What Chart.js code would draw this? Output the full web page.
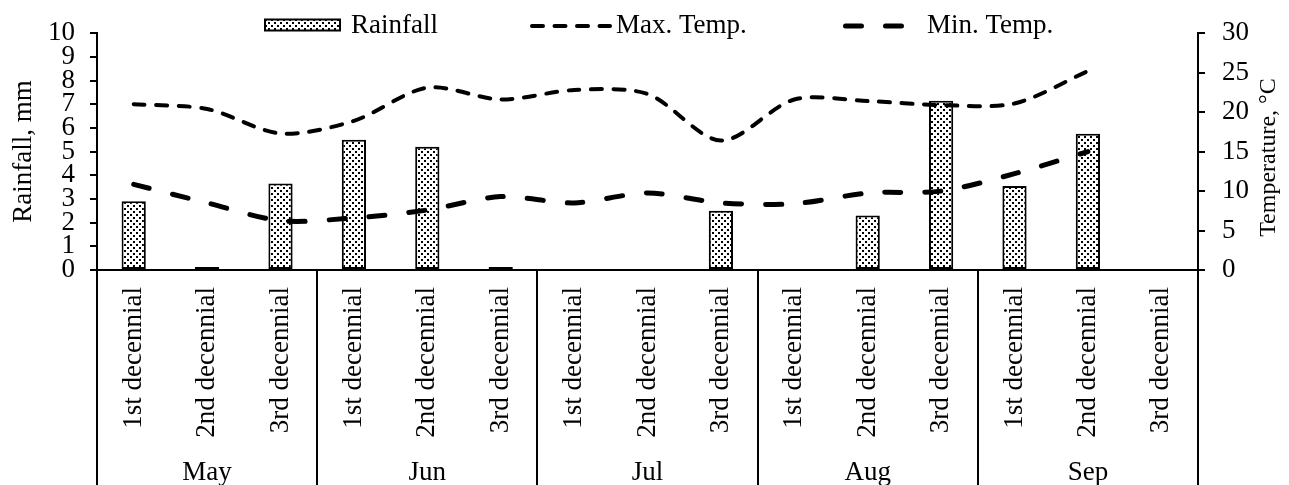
<!DOCTYPE html>
<html>
<head>
<meta charset="utf-8">
<title>Rainfall and temperature by decennial</title>
<script src="https://cdn.jsdelivr.net/npm/chart.js@4/dist/chart.umd.min.js"></script>
<style>
  html, body { margin: 0; padding: 0; background: #fff; }
  #wrap { width: 1289px; height: 485px; position: relative; }
</style>
</head>
<body>
<div id="wrap"><canvas id="chart"></canvas></div>
<script>
// ---- data ----
const months = ['May', 'Jun', 'Jul', 'Aug', 'Sep'];
const decennials = ['1st decennial', '2nd decennial', '3rd decennial'];
// rainfall per decennial, mm (null = no bar)
const rainfall = [2.9, 0, 3.65, 5.5, 5.2, 0, null, null, 2.5, null, 2.3, 7.15, 3.55, 5.75, null];
// temperatures per decennial, °C
const maxTemp = [21.0, 20.4, 17.3, 18.9, 23.1, 21.6, 22.8, 22.3, 16.4, 21.6, 21.4, 20.9, 21.1, 25.2, null];
const minTemp = [10.85, 8.5, 6.25, 6.6, 7.6, 9.3, 8.5, 9.75, 8.5, 8.4, 9.75, 10.0, 12.2, 15.0, null];
const rainTicks = { min: 0, max: 10, step: 1 };
const tempTicks = { min: 0, max: 30, step: 5 };

const categories = months.flatMap(() => decennials);
const perMonth = decennials.length;

// ---- styles ----
const FONT = "'Liberation Serif', 'Times New Roman', serif";
const FONT_SIZE = 27;
const RIGHT_TITLE_SIZE = 24;
const INK = '#000';

// dotted fill for the rainfall bars
function dotPattern() {
  const c = document.createElement('canvas');
  c.width = 6; c.height = 6;
  const g = c.getContext('2d');
  g.fillStyle = '#fff';
  g.fillRect(0, 0, 6, 6);
  g.fillStyle = '#000';
  g.fillRect(1, 1, 2, 2);
  g.fillRect(4, 4, 2, 2);
  return g.createPattern(c, 'repeat');
}
const dots = dotPattern();

// legend entries drawn across the top of the plot
const legendSlots = [
  { iconX: 265, iconW: 75, textX: 351 },
  { iconX: 530, iconW: 82, textX: 616 },
  { iconX: 843, iconW: 62, textX: 927 }
];
const legendY = 26;

const topLegend = {
  id: 'topLegend',
  afterDraw(chart) {
    const ctx = chart.ctx;
    ctx.save();
    chart.data.datasets.forEach((ds, i) => {
      const slot = legendSlots[i];
      if (!slot) return;
      if ((ds.type || chart.config.type) === 'bar') {
        const h = 11;
        ctx.fillStyle = ds.backgroundColor;
        ctx.fillRect(slot.iconX, legendY - h / 2 - 1, slot.iconW, h);
        ctx.lineWidth = 2;
        ctx.strokeStyle = ds.borderColor;
        ctx.strokeRect(slot.iconX, legendY - h / 2 - 1, slot.iconW, h);
      } else {
        ctx.lineWidth = ds.borderWidth;
        ctx.strokeStyle = ds.borderColor;
        ctx.lineCap = 'round';
        ctx.setLineDash(ds.borderDash || []);
        ctx.beginPath();
        ctx.moveTo(slot.iconX + ds.borderWidth / 2, legendY);
        ctx.lineTo(slot.iconX + slot.iconW - ds.borderWidth / 2, legendY);
        ctx.stroke();
        ctx.setLineDash([]);
      }
      ctx.fillStyle = INK;
      ctx.font = FONT_SIZE + 'px ' + FONT;
      ctx.textAlign = 'left';
      ctx.textBaseline = 'middle';
      ctx.fillText(ds.label, slot.textX, legendY);
    });
    ctx.restore();
  }
};

// vertical lines separating the months below the axis
const monthDividers = {
  id: 'monthDividers',
  afterDraw(chart) {
    const x = chart.scales.x;
    const ctx = chart.ctx;
    ctx.save();
    ctx.strokeStyle = INK;
    ctx.lineWidth = 2;
    for (let i = 0; i <= categories.length; i += perMonth) {
      const px = Math.round(x.getPixelForValue(i - 0.5));
      ctx.beginPath();
      ctx.moveTo(px, x.top);
      ctx.lineTo(px, chart.height);
      ctx.stroke();
    }
    ctx.restore();
  }
};

// right-hand axis title, reading bottom to top
const rightTitle = {
  id: 'rightTitle',
  afterDraw(chart) {
    const s = chart.scales.y1;
    const ctx = chart.ctx;
    ctx.save();
    ctx.translate(s.right - 20, (s.top + s.bottom) / 2 + 6);
    ctx.rotate(-Math.PI / 2);
    ctx.fillStyle = INK;
    ctx.font = RIGHT_TITLE_SIZE + 'px ' + FONT;
    ctx.textAlign = 'center';
    ctx.textBaseline = 'middle';
    ctx.fillText('Temperature, °C', 0, 0);
    ctx.restore();
  }
};

Chart.defaults.font.family = FONT;
Chart.defaults.font.size = FONT_SIZE;
Chart.defaults.color = INK;

const tickFont = { family: FONT, size: FONT_SIZE };

new Chart(document.getElementById('chart'), {
  type: 'bar',
  data: {
    labels: categories,
    datasets: [
      {
        type: 'bar',
        label: 'Rainfall',
        data: rainfall,
        yAxisID: 'y',
        backgroundColor: dots,
        borderColor: INK,
        borderWidth: 2,
        borderSkipped: false,
        categoryPercentage: 1,
        barPercentage: 0.33,
        minBarLength: 3,
        order: 2
      },
      {
        type: 'line',
        label: 'Max. Temp.',
        data: maxTemp,
        yAxisID: 'y1',
        borderColor: INK,
        borderWidth: 4,
        borderDash: [11, 11.5],
        borderCapStyle: 'round',
        pointRadius: 0,
        fill: false,
        tension: 0.3,
        order: 1
      },
      {
        type: 'line',
        label: 'Min. Temp.',
        data: minTemp,
        yAxisID: 'y1',
        borderColor: INK,
        borderWidth: 5,
        borderDash: [16, 24],
        borderCapStyle: 'round',
        pointRadius: 0,
        fill: false,
        tension: 0.3,
        order: 1
      }
    ]
  },
  options: {
    responsive: true,
    maintainAspectRatio: false,
    devicePixelRatio: 1,
    animation: false,
    events: [],
    layout: { padding: { top: 27, left: 0, right: 0, bottom: 0 } },
    plugins: {
      legend: { display: false },
      tooltip: { enabled: false }
    },
    scales: {
      x: {
        type: 'category',
        position: 'bottom',
        offset: true,
        weight: 0,
        grid: { display: false },
        border: { display: true, color: INK, width: 2 },
        ticks: {
          font: tickFont, color: INK, autoSkip: false,
          minRotation: 90, maxRotation: 90, padding: 9
        },
        afterFit(s) { s.height = 168; }
      },
      xm: {
        type: 'category',
        labels: months,
        position: 'bottom',
        offset: true,
        weight: 1,
        grid: { display: false },
        border: { display: false },
        ticks: { font: tickFont, color: INK, autoSkip: false, maxRotation: 0, padding: 11 },
        afterFit(s) { s.height = 47; }
      },
      y: {
        position: 'left',
        min: rainTicks.min,
        max: rainTicks.max,
        ticks: { stepSize: rainTicks.step, autoSkip: false, font: tickFont, color: INK, padding: 15 },
        grid: { drawOnChartArea: false, drawTicks: true, tickLength: 7, color: INK, lineWidth: 2 },
        border: { display: true, color: INK, width: 2 },
        title: { display: true, text: 'Rainfall, mm', font: tickFont, color: INK, padding: { top: 8, bottom: 0 } },
        afterFit(s) { s.width = 97; }
      },
      y1: {
        position: 'right',
        min: tempTicks.min,
        max: tempTicks.max,
        ticks: { stepSize: tempTicks.step, autoSkip: false, font: tickFont, color: INK, padding: 17 },
        grid: { drawOnChartArea: false, drawTicks: true, tickLength: 7, color: INK, lineWidth: 2 },
        border: { display: true, color: INK, width: 2 },
        afterFit(s) { s.width = 91; }
      }
    }
  },
  plugins: [monthDividers, topLegend, rightTitle]
});
</script>
</body>
</html>
